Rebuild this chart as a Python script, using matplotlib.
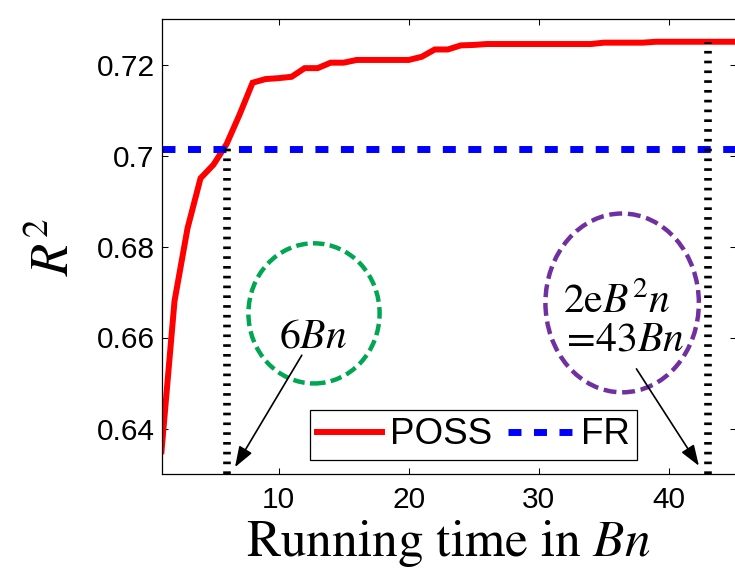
import matplotlib
matplotlib.use("Agg")
import matplotlib.pyplot as plt
from matplotlib.patches import Ellipse

plt.rcParams['font.family'] = ['Liberation Sans', 'DejaVu Sans']
plt.rcParams['mathtext.fontset'] = 'stix'

# running time (in Bn) and R^2 of POSS
running_time = list(range(1, 46))
poss_r2 = [0.635, 0.668, 0.684, 0.695, 0.698, 0.7025, 0.709, 0.716, 0.7168, 0.717,
           0.7173, 0.7192, 0.7192, 0.7204, 0.7204, 0.721, 0.721, 0.721, 0.721, 0.721,
           0.7217, 0.7233, 0.7233, 0.7242, 0.7243, 0.7245, 0.7245, 0.7245, 0.7245, 0.7245,
           0.7245, 0.7245, 0.7245, 0.7245, 0.7248, 0.7248, 0.7248, 0.7248, 0.725, 0.725,
           0.725, 0.725, 0.725, 0.725, 0.725]
fr_r2 = 0.7015
marked_times = [6, 43]
yticks = [0.64, 0.66, 0.68, 0.70, 0.72]
ytick_labels = ['0.64', '0.66', '0.68', '0.7', '0.72']
xticks = [10, 20, 30, 40]

fig = plt.figure(figsize=(7.35, 5.68), dpi=100)
ax = fig.add_axes([161.5 / 735, 1 - 474 / 568, (736 - 161.5) / 735, 455 / 568])

ax.plot(running_time, poss_r2, color='#ff0000', lw=4.3, label='POSS', solid_joinstyle='miter')
ax.axhline(fr_r2, color='#0000ff', lw=5, linestyle=(0, (1.87, 1.8)), label='FR')

# dotted markers down to the axis
tops = [poss_r2[running_time.index(t)] for t in marked_times]
ax.vlines(marked_times, 0.63, tops, colors='k', lw=5.5,
          linestyles=[(0, (0.35, 0.93))], capstyle='butt')

# annotations
ax.add_patch(Ellipse((12.72, 0.6653), 10.08, 0.0308, fill=False, ec='#00a651',
                     lw=3.2, linestyle=(0, (2.6, 1.2))))
ax.add_patch(Ellipse((36.4, 0.6676), 11.79, 0.0393, fill=False, ec='#7030a0',
                     lw=3.2, linestyle=(0, (2.9, 1.3))))
ax.text(12.65, 0.6579, r'$6Bn$', fontsize=30, ha='center', va='baseline')
ax.text(36.02, 0.6653, r'$2\mathrm{e}B^2n$', fontsize=30, ha='center', va='baseline')
ax.text(36.4, 0.6572, r'$=\!43Bn$', fontsize=30, ha='center', va='baseline')
arrow = dict(arrowstyle='-|>,head_length=0.45,head_width=0.16', mutation_scale=28,
             lw=1.2, color='k', shrinkA=0, shrinkB=0)
ax.annotate('', xy=(6.65, 0.6315), xytext=(11.78, 0.6561), arrowprops=arrow)
ax.annotate('', xy=(42.3, 0.6318), xytext=(37.5, 0.6531), arrowprops=arrow)

ax.set_xlim(1, 45.15)
ax.set_ylim(0.63, 0.73)
ax.set_xticks(xticks)
ax.set_yticks(yticks)
ax.set_yticklabels(ytick_labels)
ax.tick_params(direction='in', top=True, right=True, length=4, width=0.75,
               labelsize=21.5)
ax.tick_params(axis='x', pad=9)
ax.tick_params(axis='y', pad=5)
for s in ax.spines.values():
    s.set_linewidth(0.9)

ax.set_xlabel(r'Running time in $Bn$', fontsize=37, family='STIXGeneral', labelpad=2.5)
ax.set_ylabel(r'$R^2$', fontsize=38, labelpad=12)

leg = ax.legend(ncol=2, loc='center', bbox_to_anchor=(473.3 / 735, 1 - 435 / 568),
                bbox_transform=fig.transFigure, fontsize=26.5, frameon=True,
                fancybox=False, framealpha=1, edgecolor='k', borderpad=0.2,
                handlelength=1.77, handletextpad=0.2, columnspacing=0.45,
                borderaxespad=0)
leg.get_frame().set_linewidth(0.9)

fig.savefig('out.png', dpi=100)
